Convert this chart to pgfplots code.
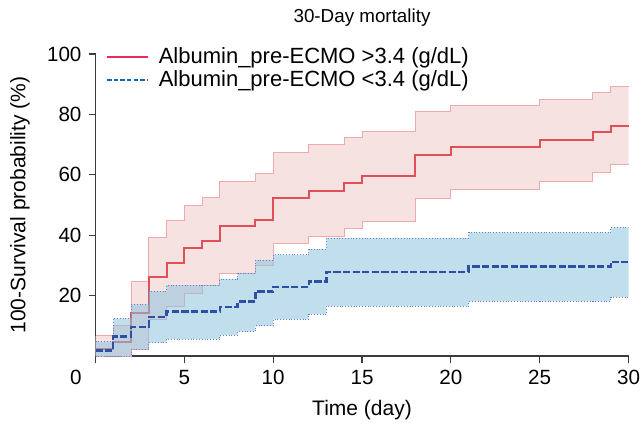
\documentclass[border=0pt]{standalone}
\usepackage{fontspec}
\setmainfont{Liberation Sans}
\usepackage{pgfplots}
\usepackage{pgfplotstable}
\pgfplotsset{compat=1.18}
\usepgfplotslibrary{fillbetween}

\definecolor{redline}{RGB}{225,80,90}
\definecolor{redband}{RGB}{247,226,226}
\definecolor{rededge}{RGB}{238,170,172}
\definecolor{blueline}{RGB}{45,80,165}
\definecolor{blueband}{RGB}{142,195,222}
\definecolor{blueedge}{RGB}{105,130,210}
\definecolor{legred}{RGB}{232,45,90}
\definecolor{legblue}{RGB}{20,100,190}
\definecolor{axisgray}{RGB}{60,60,60}

% step values hold from t until the next row
% rm/ru/rl: albumin >3.4 (estimate, upper, lower); bm/bu/bl: albumin <3.4
\pgfplotstableread{
t   rm    ru    rl    bm    bu    bl
0   2.2   6.7   0.0   1.8   4.8   0.0
1   4.5   10.0  0.0   6.4   12.5  0.0
2   14.2  24.7  2.2   9.7   17.1  2.2
3   26.0  39.4  12.0  13.0  21.5  4.4
4   30.8  44.9  16.5  14.7  23.5  5.6
5   35.7  49.9  20.7  14.7  23.5  5.6
6   38.1  52.6  23.5  14.7  23.5  5.6
7   42.9  57.8  27.3  16.2  25.5  6.9
8   42.9  57.8  27.3  18.0  27.5  8.1
9   45.1  60.4  29.9  21.3  31.8  10.0
10  52.3  67.4  37.4  22.8  33.5  12.1
12  54.8  70.0  39.7  24.7  35.4  13.8
13  54.8  70.0  39.7  27.9  39.0  16.5
14  57.3  72.3  42.2  27.9  39.0  16.5
15  59.7  74.5  44.5  27.9  39.0  16.5
18  66.7  80.8  52.3  27.9  39.0  16.5
20  69.1  83.0  55.0  27.9  39.0  16.5
21  69.1  83.0  55.0  29.6  40.9  18.1
25  71.6  85.1  57.8  29.6  40.9  18.1
28  74.1  87.1  60.6  29.6  40.9  18.1
29  76.3  89.1  63.4  31.2  42.6  19.5
30  76.3  89.1  63.4  31.2  42.6  19.5
}\km

\begin{document}
\begin{tikzpicture}
\begin{axis}[
    set layers,
    at={(0pt,0pt)}, anchor=south west,
    scale only axis,
    width=266.5pt, height=151pt,
    xmin=0, xmax=30, ymin=0, ymax=100,
    enlargelimits=false,
    axis lines=left,
    axis line style={-, axisgray, line width=0.6pt},
    tick style={axisgray, line width=0.6pt},
    tick align=outside,
    major tick length=3.5pt,
    xtick={0,5,...,30},
    xticklabels={\llap{0\hspace{7pt}},5,10,15,20,25,30},
    ytick={20,40,60,80,100},
    /pgf/number format/assume math mode=true,
    tick label style={font=\fontsize{10.3}{12}\selectfont},
    xlabel={Time (day)},
    ylabel={100-Survival probability (\%)},
    label style={font=\fontsize{10.5}{12}\selectfont},
    xlabel style={at={(axis description cs:0.5,-0.1788)}, anchor=center},
    ylabel style={at={(axis description cs:-0.1417,0.5)}, anchor=center},
    legend style={draw=none, fill=none,
                  at={(axis description cs:0,1)}, anchor=west,
                  xshift=2.25pt, yshift=-7.3pt,
                  font=\fontsize{11}{13}\selectfont,
                  nodes={inner sep=0.5pt}, row sep=1.2pt, column sep=4.3pt},
    legend cell align=left,
    legend image code/.code={\draw[#1] (0pt,0pt) -- (20.6pt,0pt);},
]
% >3.4 band and estimate (kept on the lower layer, under the <3.4 band)
\addplot[name path=ru, draw=none, const plot, forget plot] table[x=t, y=ru] {\km};
\addplot[name path=rl, draw=none, const plot, forget plot] table[x=t, y=rl] {\km};
\addplot[fill=redband, draw=none, forget plot] fill between[of=ru and rl];
\addplot[rededge, line width=0.5pt, const plot, forget plot, on layer=pre main] table[x=t, y=ru] {\km};
\addplot[rededge, line width=0.5pt, const plot, forget plot, on layer=pre main] table[x=t, y=rl] {\km};
\addplot[redline, line width=1pt, const plot, forget plot, on layer=pre main] table[x=t, y=rm] {\km};

% <3.4 band and estimate
\addplot[name path=bu, draw=none, const plot, forget plot] table[x=t, y=bu] {\km};
\addplot[name path=bl, draw=none, const plot, forget plot] table[x=t, y=bl] {\km};
\addplot[fill=blueband, fill opacity=0.55, draw=none, forget plot] fill between[of=bu and bl];
\addplot[blueedge, line width=0.4pt, densely dotted, const plot, forget plot] table[x=t, y=bu] {\km};
\addplot[blueedge, line width=0.4pt, densely dotted, const plot, forget plot] table[x=t, y=bl] {\km};
\addplot[blueline, line width=1.2pt, dash pattern=on 3.6pt off 1.2pt, const plot, forget plot] table[x=t, y=bm] {\km};

\addlegendimage{legred, line width=0.8pt}
\addlegendentry{Albumin\_pre-ECMO >3.4 (g/dL)}
\addlegendimage{legblue, line width=0.8pt, dash pattern=on 2.2pt off 1.1pt}
\addlegendentry{Albumin\_pre-ECMO <3.4 (g/dL)}
\end{axis}
\node[font=\fontsize{9.4}{11}\selectfont] at (133.25pt,169pt) {30-Day mortality};
\pgfresetboundingbox
\path[use as bounding box] (-47.75pt,-34pt) rectangle (272.25pt,178pt);
\end{tikzpicture}
\end{document}
